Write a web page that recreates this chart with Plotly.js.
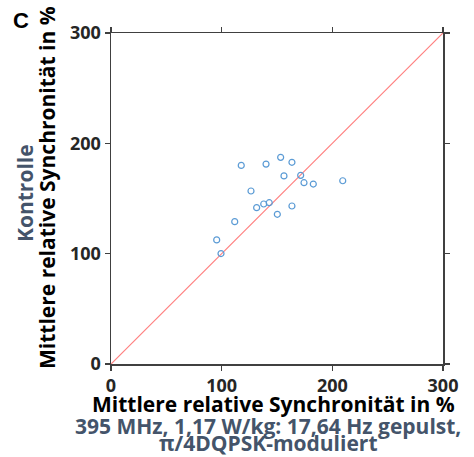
<!DOCTYPE html>
<html>
<head>
<meta charset="utf-8">
<script src="https://cdn.plot.ly/plotly-3.0.1.min.js"></script>
<style>html,body{margin:0;padding:0;background:#fff;}#chart{width:474px;height:457px;}</style>
</head>
<body>
<div id="chart"></div>
<script>
// Exposed (x) vs control (y) mean relative synchrony, %
const exposed = [117.7, 140.1, 153.3, 163.5, 156.3, 171.4, 174.4, 182.8, 209.4, 126.5, 138.0, 143.0, 131.6, 163.5, 150.3, 111.8, 95.5, 99.4];
const control = [180.0, 181.2, 187.3, 182.8, 170.5, 171.0, 164.3, 163.1, 166.1, 156.8, 145.0, 146.2, 141.7, 143.2, 135.7, 129.0, 112.5, 100.1];
const identityLine = [0, 300];
const tickVals = [0, 100, 200, 300];
const panelLabel = "C";
const xTitleLines = ["Mittlere relative Synchronität in %", "395 MHz, 1,17 W/kg: 17,64 Hz gepulst,", "π/4DQPSK-moduliert"];
const yTitleLines = ["Kontrolle", "Mittlere relative Synchronität in %"];

const FONT = "'Open Sans', 'Liberation Sans', sans-serif";
const BLUEGRAY = "#44546a";

const traces = [
  {x: identityLine, y: identityLine, mode: "lines", line: {color: "#ff8080", width: 1.2}, hoverinfo: "skip"},
  {x: exposed, y: control, mode: "markers",
   marker: {symbol: "circle-open", size: 6, color: "#5b9bd5", line: {width: 1.2, color: "#5b9bd5"}}}
];

const axisCommon = {
  range: [0, 300], tickvals: tickVals, ticks: "outside", ticklen: 5, tickwidth: 1.5, tickcolor: "#404040",
  showline: true, linecolor: "#404040", linewidth: 1.5, mirror: "ticks", showgrid: false, zeroline: false,
  tickfont: {family: FONT, size: 18, color: "#262626", weight: "bold"}, fixedrange: true
};

const layout = {
  width: 474, height: 457, showlegend: false,
  paper_bgcolor: "#fff", plot_bgcolor: "#fff",
  margin: {l: 111, r: 31, t: 33, b: 93},
  xaxis: Object.assign({}, axisCommon),
  yaxis: Object.assign({}, axisCommon),
  annotations: [
    {text: panelLabel, font: {family: "'Liberation Sans', Arial, sans-serif", size: 22, color: "#000", weight: "bold"}},
    {text: xTitleLines[0], font: {family: FONT, size: 21, color: "#000", weight: "bold"}},
    {text: xTitleLines[1], font: {family: FONT, size: 21, color: BLUEGRAY, weight: "bold"}},
    {text: xTitleLines[2], font: {family: FONT, size: 21, color: BLUEGRAY, weight: "bold"}},
    {text: yTitleLines[0], textangle: -90, font: {family: FONT, size: 21, color: BLUEGRAY, weight: "bold"}},
    {text: yTitleLines[1], textangle: -90, font: {family: FONT, size: 21, color: "#000", weight: "bold"}}
  ]
};

// convert pixel positions (page coords) to paper coords
const pw = 474 - 111 - 31, ph = 457 - 33 - 93;
function px(xp) { return (xp - 111) / pw; }
function py(yp) { return (457 - 93 - yp) / ph; }
const pos = [[21, 20], [273, 404], [268, 426], [268, 443], [25, 193], [47, 188]];
layout.annotations.forEach((a, i) => {
  Object.assign(a, {xref: "paper", yref: "paper", showarrow: false, x: px(pos[i][0]), y: py(pos[i][1]), xanchor: "center", yanchor: "middle"});
});

Plotly.newPlot("chart", traces, layout, {displayModeBar: false, staticPlot: true});
</script>
</body>
</html>
